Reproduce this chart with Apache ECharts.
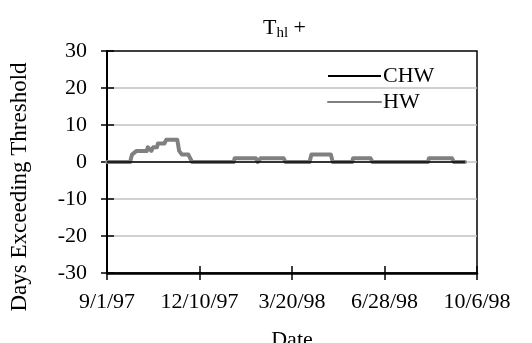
<!DOCTYPE html>
<html>
<head>
<meta charset="utf-8">
<script src="https://cdn.jsdelivr.net/npm/echarts@6/dist/echarts.min.js"></script>
<style>
html, body { margin: 0; padding: 0; background: #fff; }
#chart1 { width: 532px; height: 343px; }
</style>
</head>
<body>
<div id="chart1"></div>
<script>
// days counted from 9/1/97
let hwDays = [0, 25, 27, 32, 43, 44, 48, 50, 54, 55, 62, 64, 76, 78, 81, 88, 90, 92,
    137, 138, 161, 163, 165, 166, 191, 193, 219, 221, 242, 244,
    265, 266, 285, 287, 347, 348, 373, 375, 387];
let hwVals = [0, 0, 2, 3, 3, 4, 3, 4, 4, 5, 5, 6, 6, 3, 2, 2, 1, 0,
    0, 1, 1, 0, 0, 1, 1, 0, 0, 2, 2, 0,
    0, 1, 1, 0, 0, 1, 1, 0, 0];
let chwDays = [0, 387];
let chwVals = [0, 0];
let xTicks = [0, 100, 200, 300, 400];
let yTicks = [-30, -20, -10, 0, 10, 20, 30];

let font = 'Liberation Serif';

function dayLabel(v) {
    let d = new Date(Date.UTC(1997, 8, 1) + v * 86400000);
    return (d.getUTCMonth() + 1) + '/' + d.getUTCDate() + '/' + String(d.getUTCFullYear()).slice(2);
}

let dom1 = document.getElementById("chart1");
let Chart1 = echarts.init(dom1);

let option1 = {
    animation: false,
    title: {
        text: '{t|T}{s|hl}{t| +}',
        left: 258,
        top: 10,
        textStyle: {
            fontWeight: 'normal',
            rich: {
                t: { fontFamily: font, fontSize: 22, fontWeight: 'normal', color: '#000', lineHeight: 26, verticalAlign: 'middle' },
                s: { fontFamily: font, fontSize: 15, fontWeight: 'normal', color: '#000', lineHeight: 14, verticalAlign: 'bottom' }
            }
        }
    },
    color: ['#000', '#808080'],
    legend: {
        data: ['CHW', 'HW'],
        orient: 'vertical',
        left: 322,
        top: 60,
        itemWidth: 53,
        itemHeight: 14,
        itemGap: 4,
        itemStyle: { opacity: 0 },
        textStyle: {
            fontFamily: font,
            fontSize: 22,
            color: '#000',
            padding: [0, 0, 0, -3]
        }
    },
    grid: {
        top: 51,
        left: 107,
        right: 55,
        bottom: 70,
        outerBoundsMode: 'none',
        containLabel: false,
        show: true,
        borderColor: '#000',
        borderWidth: 1.5
    },
    xAxis: [{
        type: 'value',
        min: xTicks[0],
        max: xTicks[xTicks.length - 1],
        interval: 100,
        name: 'Date',
        nameLocation: 'middle',
        nameGap: 56,
        nameTextStyle: { fontFamily: font, fontSize: 22, color: '#000' },
        axisLine: { onZero: false, lineStyle: { color: '#000', width: 2.5 } },
        axisTick: { length: 7, lineStyle: { color: '#000', width: 1.5 } },
        axisLabel: {
            margin: 18,
            fontFamily: font,
            fontSize: 22,
            color: '#000',
            formatter: dayLabel
        },
        splitLine: { show: false }
    }, {
        type: 'value',
        position: 'bottom',
        min: xTicks[0],
        max: xTicks[xTicks.length - 1],
        interval: 100,
        axisLine: { show: false, onZero: false },
        axisTick: { inside: true, length: 7, lineStyle: { color: '#000', width: 1.5 } },
        axisLabel: { show: false },
        splitLine: { show: false }
    }],
    yAxis: [{
        type: 'value',
        min: yTicks[0],
        max: yTicks[yTicks.length - 1],
        interval: 10,
        name: 'Days Exceeding Threshold',
        nameLocation: 'middle',
        nameGap: 76,
        nameTextStyle: { fontFamily: font, fontSize: 23, color: '#000', padding: [0, 50, 0, 0] },
        axisLine: { show: true, onZero: false, lineStyle: { color: '#000', width: 2 } },
        axisTick: { show: true, length: 6, lineStyle: { color: '#000', width: 1.5 } },
        axisLabel: { margin: 20, fontFamily: font, fontSize: 22, color: '#000' },
        splitLine: {
            showMinLine: false,
            showMaxLine: false,
            lineStyle: { color: '#c0c0c0', width: 1.5 }
        }
    }, {
        type: 'value',
        position: 'left',
        min: yTicks[0],
        max: yTicks[yTicks.length - 1],
        interval: 10,
        axisLine: { show: false, onZero: false },
        axisTick: { show: true, inside: true, length: 7, lineStyle: { color: '#000', width: 1.5 } },
        axisLabel: { show: false },
        splitLine: { show: false }
    }],
    series: [
        {
            name: 'CHW',
            type: 'line',
            symbol: 'none',
            z: 3,
            lineStyle: { color: '#000', width: 1.5 },
            data: chwDays.map((d, i) => [d, chwVals[i]])
        },
        {
            name: 'HW',
            type: 'line',
            symbol: 'none',
            z: 2,
            lineStyle: { color: '#808080', width: 4, join: 'round', cap: 'round' },
            data: hwDays.map((d, i) => [d, hwVals[i]])
        }
    ]
};

Chart1.setOption(option1);
</script>
</body>
</html>
